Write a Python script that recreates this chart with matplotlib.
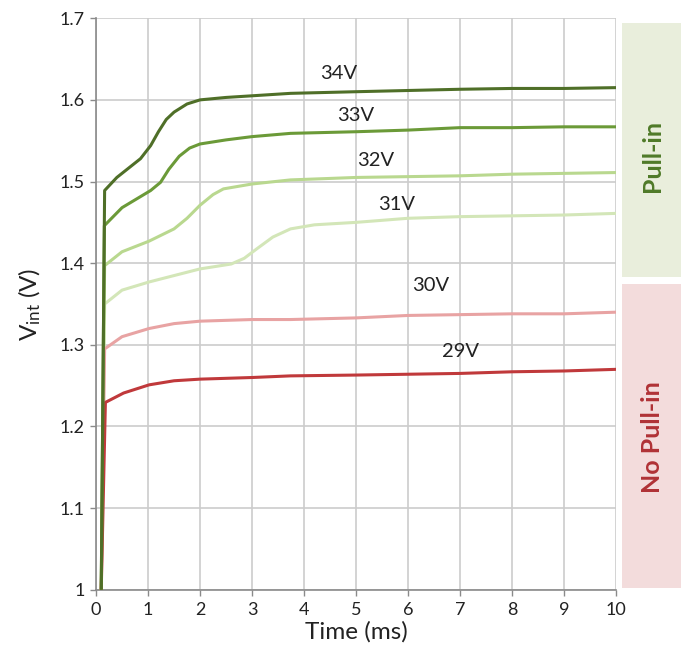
import matplotlib
matplotlib.use("Agg")
import matplotlib.pyplot as plt
from matplotlib.patches import Rectangle

plt.rcParams['font.family'] = ['Lato', 'DejaVu Sans']
plt.rcParams['mathtext.fontset'] = 'custom'
plt.rcParams['mathtext.rm'] = 'Lato'
plt.rcParams['mathtext.it'] = 'Lato:italic'
plt.rcParams['mathtext.bf'] = 'Lato:bold'

# ---- data ----
t34 = [0.1, 0.165, 0.4, 0.855, 1.05, 1.2, 1.35, 1.5, 1.75, 2.0, 2.5, 3.0, 3.74, 5, 6, 7, 8, 9, 10]
v34 = [1.0, 1.489, 1.505, 1.528, 1.544, 1.561, 1.576, 1.585, 1.595, 1.600, 1.603, 1.605, 1.608, 1.61, 1.6115, 1.613, 1.614, 1.614, 1.615]

t33 = [0.1, 0.16, 0.5, 1.05, 1.24, 1.4, 1.6, 1.8, 2.0, 2.5, 3.0, 3.74, 5, 6, 7, 8, 9, 10]
v33 = [1.0, 1.446, 1.468, 1.489, 1.499, 1.515, 1.531, 1.541, 1.546, 1.551, 1.555, 1.559, 1.561, 1.563, 1.566, 1.566, 1.567, 1.567]

t32 = [0.1, 0.165, 0.5, 1.02, 1.5, 1.75, 2.0, 2.25, 2.45, 3.0, 3.74, 5, 6, 7, 8, 9, 10]
v32 = [1.0, 1.397, 1.414, 1.427, 1.442, 1.455, 1.471, 1.484, 1.491, 1.497, 1.502, 1.505, 1.506, 1.507, 1.509, 1.510, 1.511]

t31 = [0.1, 0.165, 0.5, 1.02, 2.0, 2.6, 2.85, 3.1, 3.4, 3.74, 4.2, 5, 6, 7, 8, 9, 10]
v31 = [1.0, 1.35, 1.367, 1.377, 1.393, 1.399, 1.406, 1.418, 1.432, 1.442, 1.447, 1.450, 1.455, 1.457, 1.458, 1.459, 1.461]

t30 = [0.1, 0.165, 0.5, 1.02, 1.5, 2.0, 3.0, 3.74, 5, 6, 7, 8, 9, 10]
v30 = [1.0, 1.295, 1.31, 1.32, 1.326, 1.329, 1.331, 1.331, 1.333, 1.336, 1.337, 1.338, 1.338, 1.340]

t29 = [0.1, 0.18, 0.53, 1.02, 1.5, 2.0, 3.0, 3.74, 5, 6, 7, 8, 9, 10]
v29 = [1.0, 1.2295, 1.241, 1.251, 1.256, 1.258, 1.26, 1.262, 1.263, 1.264, 1.265, 1.267, 1.268, 1.27]

series_labels = ['34V', '33V', '32V', '31V', '30V', '29V']
label_pos_t = [4.66, 4.99, 5.37, 5.78, 6.43, 7.0]
label_pos_v = [1.632, 1.581, 1.526, 1.472, 1.373, 1.292]
colors = ['#4f6f28', '#6b9a38', '#b9d88f', '#d3e6b8', '#e8a3a3', '#c0393b']

x_ticks = list(range(0, 11))
y_ticks = [1.0, 1.1, 1.2, 1.3, 1.4, 1.5, 1.6, 1.7]
y_tick_labels = ['1', '1.1', '1.2', '1.3', '1.4', '1.5', '1.6', '1.7']

# ---- figure ----
fig = plt.figure(figsize=(6.86, 6.51), dpi=100)
ax = fig.add_axes([0.140, 0.094, 0.758, 0.878])

ts = [t34, t33, t32, t31, t30, t29]
vs = [v34, v33, v32, v31, v30, v29]
order = [3, 2, 4, 5, 1, 0]
for i in order:
    ax.plot(ts[i], vs[i], color=colors[i], lw=2.2, solid_capstyle='butt',
            solid_joinstyle='round', zorder=3)

for lab, tx, vy in zip(series_labels, label_pos_t, label_pos_v):
    ax.text(tx, vy, lab, ha='center', va='center', fontsize=14.5, color='#222222', zorder=4)

ax.set_xlim(0, 10)
ax.set_ylim(1.0, 1.7)
ax.set_xticks(x_ticks)
ax.set_yticks(y_ticks)
ax.set_yticklabels(y_tick_labels)
ax.grid(True, color='#cccccc', lw=1.2, zorder=0)
ax.set_axisbelow(True)
for s in ['top', 'right']:
    ax.spines[s].set_visible(False)
for s in ['left', 'bottom']:
    ax.spines[s].set_color('#8a8a8a')
    ax.spines[s].set_linewidth(1.2)
ax.tick_params(axis='both', labelsize=13, colors='#8a8a8a', labelcolor='#222222',
               length=4, width=1.0, direction='out')
ax.tick_params(axis='x', pad=5)
ax.tick_params(axis='y', pad=4)

ax.set_xlabel('Time (ms)', fontsize=17.5, color='#222222', labelpad=2)
ax.set_ylabel(r'V$_{\mathrm{int}}$ (V)', fontsize=17.5, color='#222222', labelpad=12)

# ---- region boxes ----
fig.patches.append(Rectangle((0.9067, 0.5745), 0.086, 0.390, transform=fig.transFigure,
                             facecolor='#e9eedc', edgecolor='none', zorder=0))
fig.patches.append(Rectangle((0.9067, 0.0968), 0.086, 0.4669, transform=fig.transFigure,
                             facecolor='#f3dcdc', edgecolor='none', zorder=0))
fig.text(0.951, 0.760, 'Pull-in', rotation=90, ha='center', va='center',
         fontsize=18, fontweight='bold', color='#4f7a28')
fig.text(0.951, 0.329, 'No Pull-in', rotation=90, ha='center', va='center',
         fontsize=18, fontweight='bold', color='#b03236')

fig.savefig('out.png', dpi=100)
